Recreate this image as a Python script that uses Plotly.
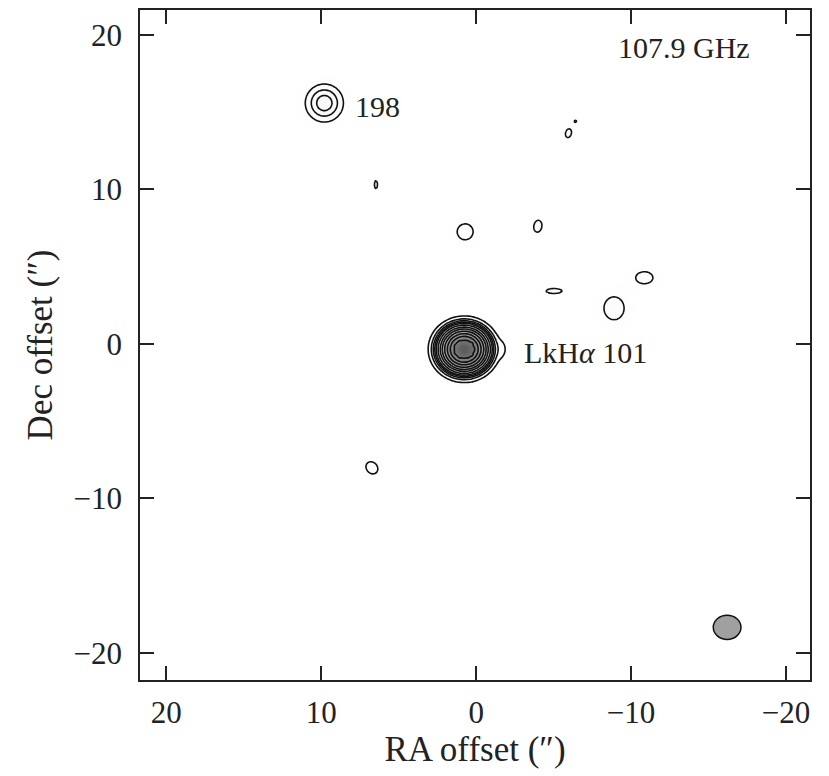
import numpy as np
import plotly.graph_objects as go

# ---- data (offsets in arcsec, peaks in units of the noise) ----
SRC_RA    = [0.77, -1.75, 9.80, -5.96, -6.41, 0.71, -3.98, -5.03, -10.86, -8.90, 6.47, 6.73]
SRC_DEC   = [-0.35, -0.35, 15.58, 13.63, 14.40, 7.25, 7.61, 3.42, 4.28, 2.30, 10.30, -8.02]
SRC_PEAK  = [186.0, 2.3, 11.1, 4.5, 3.4, 4.5, 4.5, 4.5, 4.5, 4.5, 4.5, 4.5]
SRC_SRA   = [0.81, 0.28, 0.76, 0.21, 0.15, 0.57, 0.29, 0.57, 0.61, 0.72, 0.11, 0.39]
SRC_SDEC  = [0.75, 0.55, 0.76, 0.32, 0.15, 0.57, 0.43, 0.18, 0.43, 0.82, 0.29, 0.47]
SRC_ANGLE = [0, 0, 0, -15, 0, 0, -10, 0, 0, 0, 0, 40]

CONTOUR_LEVELS = [3, 6, 9, 12, 15, 21, 30, 40, 55, 75, 100, 130]

LABEL_TEXT = ["198", "LkH<i>α</i> 101", "107.9 GHz"]
LABEL_RA   = [7.94, -2.97, -9.03]
LABEL_DEC  = [15.35, -0.58, 19.2]

BEAM_RA, BEAM_DEC = -16.2, -18.34
BEAM_MAJ, BEAM_MIN = 1.79, 1.57

TICK_VALS = [20, 10, 0, -10, -20]
TICK_TEXT = ["20", "10", "0", "\u221210", "\u221220"]

# ---- build the map ----
ra = np.arange(-22.0, 22.0001, 0.1)
dec = np.arange(-22.0, 22.0001, 0.1)
RA, DEC = np.meshgrid(ra, dec)
Z = np.zeros_like(RA)
for r0, d0, p, sr, sd, ang in zip(SRC_RA, SRC_DEC, SRC_PEAK, SRC_SRA, SRC_SDEC, SRC_ANGLE):
    u = -(RA - r0)
    v = DEC - d0
    t = np.deg2rad(ang)
    uu = u * np.cos(t) + v * np.sin(t)
    vv = -u * np.sin(t) + v * np.cos(t)
    Z += p * np.exp(-0.5 * ((uu / sr) ** 2 + (vv / sd) ** 2))

n = len(CONTOUR_LEVELS)
xp = [0.0] + CONTOUR_LEVELS + [CONTOUR_LEVELS[-1] * 4]
fp = list(range(0, n + 2))
Zc = np.interp(Z, xp, fp).astype(np.float32)

fig = go.Figure()
fig.add_trace(go.Heatmap(
    x=ra, y=dec, z=Z.astype(np.float32),
    colorscale=[[0, "#ffffff"], [0.07, "#f6f6f6"], [0.3, "#a8a8a8"], [1, "#5c5c5c"]],
    zmin=0, zmax=max(SRC_PEAK), showscale=False, zsmooth="best", hoverinfo="skip",
))
fig.add_trace(go.Contour(
    x=ra, y=dec, z=Zc,
    autocontour=False,
    contours=dict(start=1, end=n, size=1, coloring="none"),
    line=dict(color="#111111", width=1.6),
    showscale=False, hoverinfo="skip",
))

tick_font = dict(family="Liberation Serif", size=31, color="#222222")
title_font = dict(family="Liberation Serif", size=35, color="#222222")
label_font = dict(family="Liberation Serif", size=30, color="#222222")
for txt, x, y in zip(LABEL_TEXT, LABEL_RA, LABEL_DEC):
    fig.add_annotation(x=x, y=y, xref="x", yref="y", text=txt, showarrow=False,
                       xanchor="left", yanchor="middle", font=label_font)

fig.add_shape(type="circle", xref="x", yref="y",
              x0=BEAM_RA + BEAM_MAJ / 2, x1=BEAM_RA - BEAM_MAJ / 2,
              y0=BEAM_DEC - BEAM_MIN / 2, y1=BEAM_DEC + BEAM_MIN / 2,
              fillcolor="#a0a0a0", line=dict(color="#111111", width=1.5), layer="above")

axis_common = dict(
    tickvals=TICK_VALS, ticktext=TICK_TEXT,
    ticks="inside", ticklen=14, tickwidth=1.5, tickcolor="#222222",
    showline=True, linecolor="#222222", linewidth=1.6, mirror="ticks",
    showgrid=False, zeroline=False, tickfont=tick_font,
)
fig.update_layout(
    width=829, height=776,
    margin=dict(l=140, r=19, t=8, b=96),
    paper_bgcolor="white", plot_bgcolor="white",
    font=tick_font,
    xaxis=dict(range=[21.7, -21.55], title=dict(text="RA offset (\u2033)", font=title_font, standoff=0),
               ticklabelstandoff=4, **axis_common),
    yaxis=dict(range=[-21.75, 21.6], title=dict(text="Dec offset (\u2033)", font=title_font, standoff=10),
               ticklabelstandoff=10, **axis_common),
    showlegend=False,
)
fig.write_html("out.html")
